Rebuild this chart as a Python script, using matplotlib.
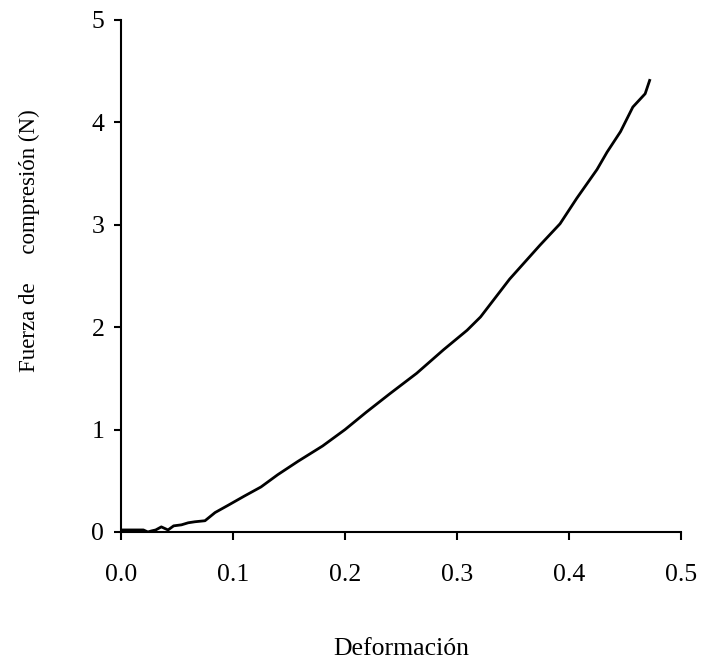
import matplotlib
matplotlib.use("Agg")
import matplotlib.pyplot as plt

# deformation vs compression force
deformacion = [0.0, 0.010, 0.020, 0.024, 0.027, 0.031, 0.036, 0.042, 0.047, 0.054,
               0.060, 0.066, 0.075, 0.084, 0.0955, 0.110, 0.125, 0.140, 0.158,
               0.180, 0.200, 0.219, 0.240, 0.264, 0.288, 0.309, 0.321, 0.347,
               0.374, 0.392, 0.407, 0.425, 0.434, 0.446, 0.457, 0.468, 0.472]
fuerza = [0.02, 0.02, 0.02, 0.0, 0.01, 0.02, 0.05, 0.02, 0.06, 0.07,
          0.09, 0.10, 0.11, 0.19, 0.26, 0.35, 0.44, 0.56, 0.69,
          0.84, 1.00, 1.17, 1.35, 1.55, 1.78, 1.97, 2.10, 2.47,
          2.80, 3.01, 3.26, 3.54, 3.71, 3.91, 4.15, 4.28, 4.41]

x_ticks = [0.0, 0.1, 0.2, 0.3, 0.4, 0.5]
y_ticks = [0, 1, 2, 3, 4, 5]

plt.rcParams['font.family'] = ['Liberation Serif', 'DejaVu Serif']

fig = plt.figure(figsize=(7.04, 6.62), dpi=100)
ax = fig.add_axes([121 / 704, 1 - 532 / 662, 560 / 704, 512 / 662])

ax.plot(deformacion, fuerza, color='black', lw=2)

ax.set_xlim(0, 0.5)
ax.set_ylim(0, 5)
ax.set_xticks(x_ticks)
ax.set_xticklabels([f"{v:.1f}" for v in x_ticks])
ax.set_yticks(y_ticks)
ax.set_yticklabels([str(v) for v in y_ticks])

ax.spines['top'].set_visible(False)
ax.spines['right'].set_visible(False)
ax.spines['left'].set_linewidth(1.5)
ax.spines['bottom'].set_linewidth(1.5)
ax.tick_params(axis='x', direction='out', length=6, width=1.5, pad=17, labelsize=18.5)
ax.tick_params(axis='y', direction='out', length=5, width=1.5, pad=7, labelsize=18.5)

fig.text(401 / 704, 1 - 655 / 662, "Deformación", ha='center', va='baseline', fontsize=18.5)
fig.text(29 / 704, 1 - 241 / 662, "Fuerza de     compresión (N)", rotation=90,
         ha='center', va='center', fontsize=16.5)

fig.savefig("out.png", dpi=100)
